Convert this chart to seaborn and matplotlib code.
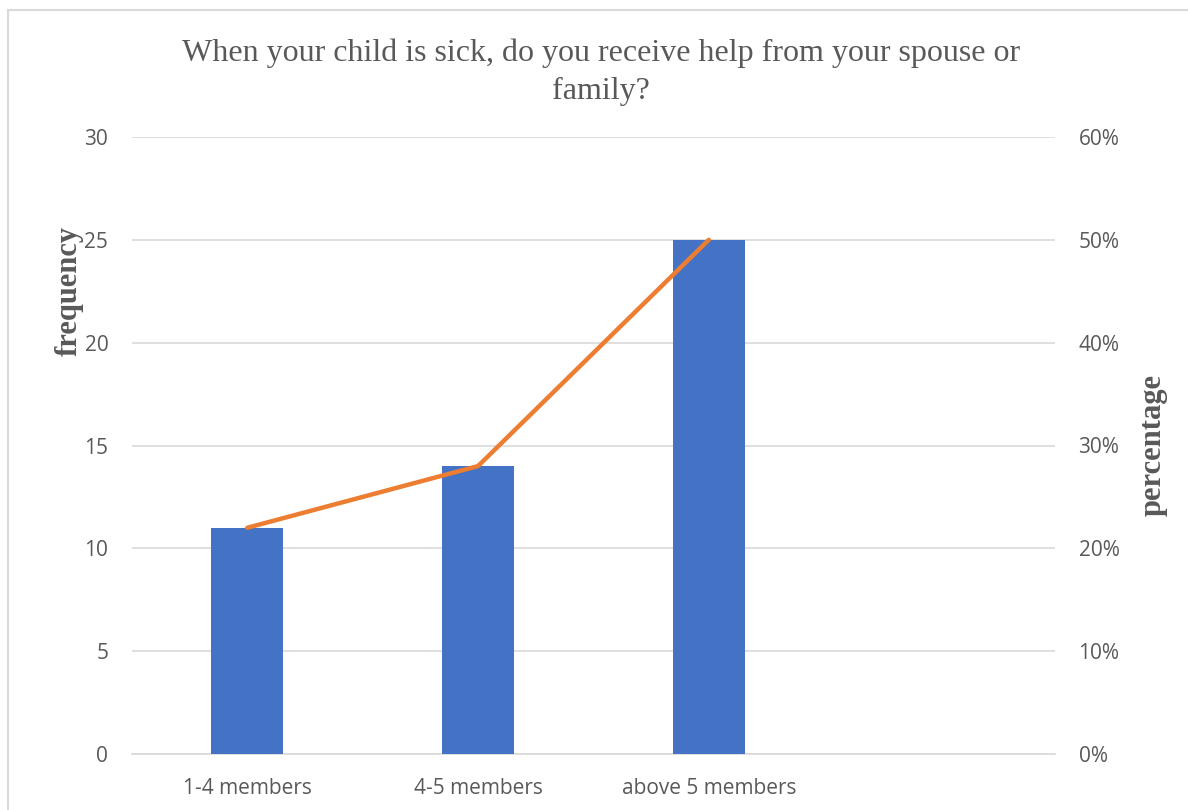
import matplotlib
matplotlib.use("Agg")
import matplotlib.pyplot as plt
import matplotlib.patches as mpatches
from matplotlib.ticker import PercentFormatter, MultipleLocator
import seaborn as sns
import pandas as pd

# Household size groups and survey answers
categories = ["1-4 members", "4-5 members", "above 5 members"]
frequency = [11, 14, 25]
percentage = [0.22, 0.28, 0.50]

title = "When your child is sick, do you receive help from your spouse or\nfamily?"

BAR_COLOR = "#4472C4"
LINE_COLOR = "#ED7D31"
TEXT_COLOR = "#595959"
GRID_COLOR = "#D9D9D9"

sns.set_theme(style="white")
plt.rcParams["font.family"] = ["Open Sans", "DejaVu Sans"]

df = pd.DataFrame({"group": categories, "frequency": frequency, "percentage": percentage})

fig = plt.figure(figsize=(11.88, 8.10), dpi=100)
ax = fig.add_axes([0.111, 0.0691, 0.777, 0.7618])

sns.barplot(data=df, x="group", y="frequency", order=categories, color=BAR_COLOR,
            width=0.31, saturation=1, linewidth=0, ax=ax, zorder=3)

ax.set_xlim(-0.5, 3.5)
ax.set_ylim(0, 30)
ax.yaxis.set_major_locator(MultipleLocator(5))
ax.grid(axis="y", color=GRID_COLOR, linewidth=1.2, zorder=0)
ax.set_axisbelow(True)
for side in ["top", "right", "left"]:
    ax.spines[side].set_visible(False)
ax.spines["bottom"].set_color(GRID_COLOR)
ax.spines["bottom"].set_linewidth(1.2)
ax.tick_params(axis="both", length=0, labelsize=15, colors=TEXT_COLOR)
ax.tick_params(axis="y", pad=17)
ax.tick_params(axis="x", pad=17)
ax.set_xlabel("")
ax.set_ylabel("frequency", family="Liberation Serif", fontsize=22, fontweight="bold",
              color=TEXT_COLOR)
ax.yaxis.set_label_coords(-0.052, 0.75)

ax2 = ax.twinx()
sns.lineplot(data=df, x="group", y="percentage", color=LINE_COLOR, linewidth=3.2,
             sort=False, ax=ax2, zorder=4)
ax2.set_xlim(-0.5, 3.5)
ax2.set_ylim(0, 0.6)
ax2.yaxis.set_major_locator(MultipleLocator(0.1))
ax2.yaxis.set_major_formatter(PercentFormatter(1.0, decimals=0))
for side in ["top", "right", "left", "bottom"]:
    ax2.spines[side].set_visible(False)
ax2.tick_params(axis="y", length=0, labelsize=15, colors=TEXT_COLOR, pad=17)
ax2.set_ylabel("percentage", family="Liberation Serif", fontsize=22, fontweight="bold",
               color=TEXT_COLOR)
ax2.yaxis.set_label_coords(1.091, 0.5)
ax2.grid(False)

fig.text(0.506, 0.911, title, ha="center", va="center", family="Liberation Serif",
         fontsize=23, color=TEXT_COLOR, linespacing=1.38)

# Thin chart-area border
fig.patches.append(mpatches.Rectangle((8 / 1188, -0.05), 1.2, 1 - 10 / 810 + 0.05,
                                      transform=fig.transFigure, fill=False,
                                      edgecolor=GRID_COLOR, linewidth=1.5))

fig.savefig("out.png", dpi=100, facecolor="white")
